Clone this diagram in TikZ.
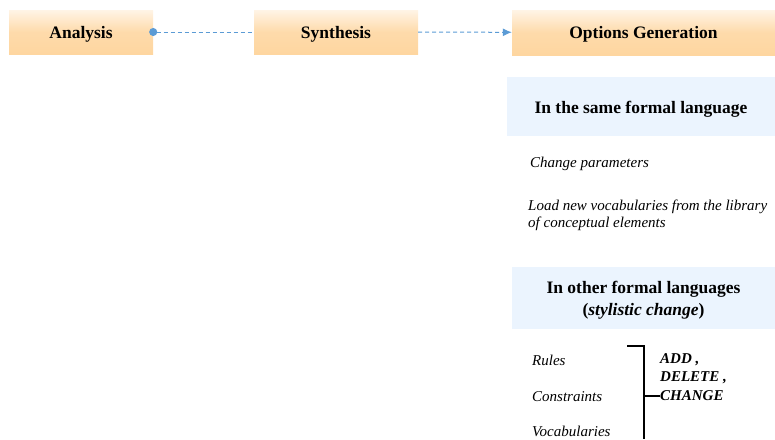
\documentclass[tikz,border=0pt]{standalone}
\usepackage{fontspec}
\setmainfont{Liberation Serif}
\usepackage{tikz}
\usetikzlibrary{positioning,arrows.meta}
\definecolor{boxorange}{HTML}{FED6A0}
\definecolor{boxlight}{HTML}{FFF4E6}
\definecolor{boxblue}{HTML}{EBF4FE}
\definecolor{linkblue}{HTML}{5B9BD5}

\begin{document}
\begin{tikzpicture}[
    x=1pt, y=-1pt,
    % GLOBAL CFG
    font=\fontsize{15}{18}\selectfont,
    % Styles
    stage/.style={% For the orange process boxes
        rectangle,
        top color=boxlight,
        bottom color=boxorange,
        middle color=boxorange!85!boxlight,
        minimum height=44pt,
        text depth=0pt,
        font=\fontsize{17.5}{20}\selectfont\bfseries,
        },
    topic/.style={% For the blue headings
        rectangle,
        fill=boxblue,
        align=center,
        text depth=0pt,
        font=\fontsize{17.5}{22}\selectfont\bfseries,
        },
    item/.style={% Italic list entries
        anchor=west,
        align=left,
        inner sep=0pt,
        font=\fontsize{15}{17}\selectfont\itshape,
        },
    op/.style={% Bold italic operations
        anchor=west,
        inner sep=0pt,
        font=\fontsize{15}{17}\selectfont\bfseries\itshape,
        },
    link/.style={% Dashed connectors
        linkblue,
        dashed,
        dash pattern=on 4pt off 3pt,
        line width=1pt,
        },
    ]

    \useasboundingbox (0,0) rectangle (775,439);

    % Draw the stages
    \node [stage, minimum width=144pt] (ana) at (81,32) {Analysis};
    \node [stage, minimum width=164pt] (syn) at (336,32) {Synthesis};
    \node [stage, minimum width=263pt, minimum height=45pt] (opt) at (643.5,32.5) {Options Generation};

    % Draw the headings
    \node [topic, text height=14pt, minimum width=268pt, minimum height=59pt] (same) at (641,106.5) {In the same formal language};
    \node [topic, minimum width=263pt, minimum height=62pt, inner ysep=1pt] (other) at (643.5,298) {In other formal languages\\(\textit{stylistic change})};

    % Entries
    \node [item] (par) at (530,164) {Change parameters};
    \node [item] (voc) at (528,215.5) {Load new vocabularies from the library\\of conceptual elements};
    \node [item] (rul) at (532,360.5) {Rules};
    \node [item] (con) at (532,396.5) {Constraints};
    \node [item] (vcb) at (532,431.5) {Vocabularies};

    \node [op] (add) at (660,360) {ADD ,};
    \node [op] (del) at (660,378) {DELETE ,};
    \node [op] (chg) at (660,395.5) {CHANGE};

    % Connectors
    \draw [link, shorten <=-4pt, {Circle[length=8pt]}-] (ana) -- (syn);
    \draw [link, -{Latex[length=9pt, width=8pt]}] (syn) -- (opt);

    % Bracket
    \coordinate (b1) at (627,346);
    \coordinate (b2) at (644,439);
    \draw [line width=2pt] (b1) -| (b2);
    \draw [line width=2pt] (chg.west) -- (chg.west -| b2);

\end{tikzpicture}
\end{document}
